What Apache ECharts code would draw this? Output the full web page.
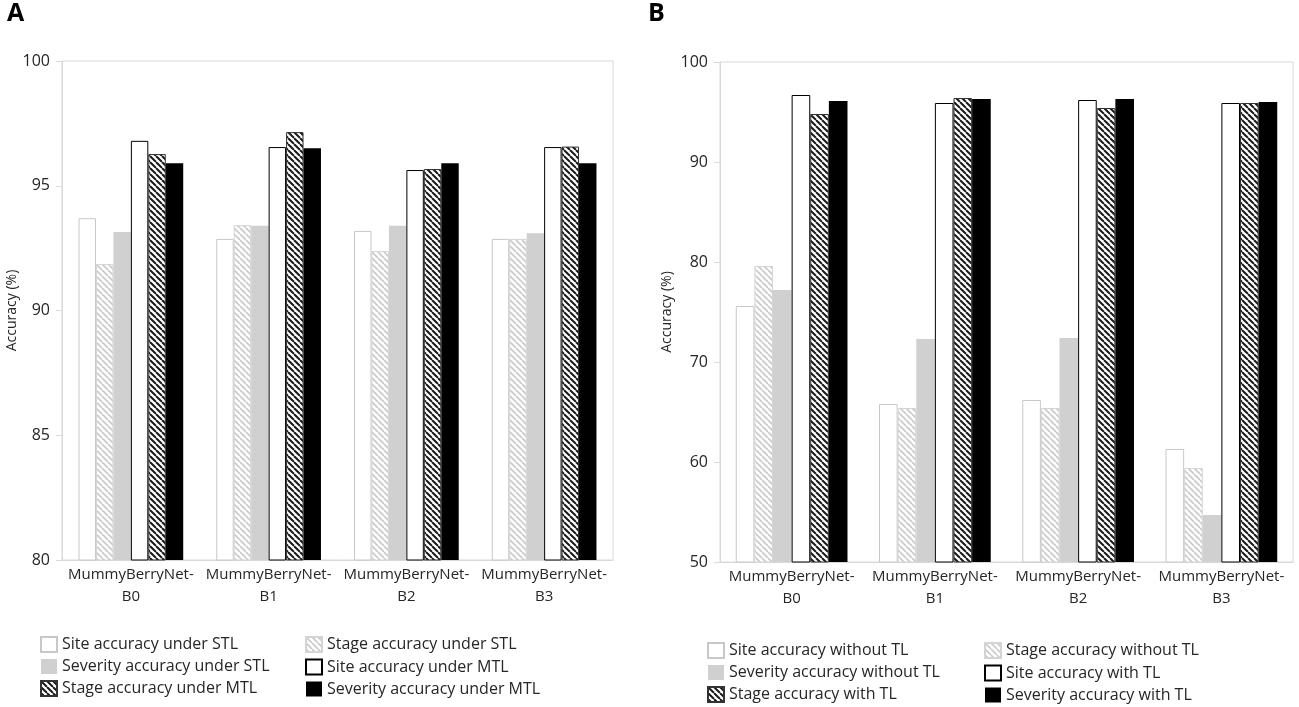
<!DOCTYPE html>
<html>
<head>
<meta charset="utf-8">
<script src="https://cdn.jsdelivr.net/npm/echarts@6/dist/echarts.min.js"></script>
<style>
  html, body { margin: 0; padding: 0; background: #fff; }
  #chart-container { width: 1299px; height: 707px; }
</style>
</head>
<body>
<div id="chart-container"></div>
<script>
const categories = ['MummyBerryNet-\nB0', 'MummyBerryNet-\nB1', 'MummyBerryNet-\nB2', 'MummyBerryNet-\nB3'];

// panel A: single-task vs multi-task learning
const namesA = [
    'Site accuracy under STL', 'Stage accuracy under STL', 'Severity accuracy under STL',
    'Site accuracy under MTL', 'Stage accuracy under MTL', 'Severity accuracy under MTL'
];
const siteSTL = [93.7, 92.87, 93.19, 92.87];
const stageSTL = [91.86, 93.42, 92.38, 92.87];
const severitySTL = [93.15, 93.4, 93.4, 93.1];
const siteMTL = [96.8, 96.55, 95.63, 96.55];
const stageMTL = [96.27, 97.15, 95.67, 96.57];
const severityMTL = [95.9, 96.5, 95.9, 95.9];

// panel B: with vs without transfer learning
const namesB = [
    'Site accuracy without TL', 'Stage accuracy without TL', 'Severity accuracy without TL',
    'Site accuracy with TL', 'Stage accuracy with TL', 'Severity accuracy with TL'
];
const siteNoTL = [75.6, 65.8, 66.2, 61.3];
const stageNoTL = [79.6, 65.4, 65.4, 59.4];
const severityNoTL = [77.2, 72.3, 72.4, 54.7];
const siteTL = [96.7, 95.9, 96.2, 95.9];
const stageTL = [94.8, 96.4, 95.4, 95.9];
const severityTL = [96.1, 96.3, 96.3, 96.0];

const yTicksA = { min: 80, max: 100, interval: 5 };
const yTicksB = { min: 50, max: 100, interval: 10 };

const fontFamily = 'Open Sans';
const textColor = '#262626';
const frameColor = '#d9d9d9';

const makeHatch = (lineColor, width) => {
    const s = 6;
    const c = document.createElement('canvas');
    c.width = s;
    c.height = s;
    const ctx = c.getContext('2d');
    ctx.fillStyle = '#ffffff';
    ctx.fillRect(0, 0, s, s);
    ctx.strokeStyle = lineColor;
    ctx.lineWidth = width;
    ctx.beginPath();
    [-s, 0, s].forEach(x0 => {
        ctx.moveTo(x0, 0);
        ctx.lineTo(x0 + s, s);
    });
    ctx.stroke();
    return { image: c, repeat: 'repeat' };
};

const lightHatch = makeHatch('#c9c9c9', 1.6);
const darkHatch = makeHatch('#1a1a1a', 2);

const barStyles = [
    { color: '#ffffff', borderColor: '#c8c8c8', borderWidth: 1 },
    { color: lightHatch, borderColor: '#d4d4d4', borderWidth: 1 },
    { color: '#d0d0d0', borderColor: '#d0d0d0', borderWidth: 0 },
    { color: '#ffffff', borderColor: '#000000', borderWidth: 1 },
    { color: darkHatch, borderColor: '#333333', borderWidth: 1 },
    { color: '#000000', borderColor: '#000000', borderWidth: 0 }
];

const makeSeries = (names, dataSets, axisIndex, catGap) => names.map((name, i) => ({
    name: name,
    type: 'bar',
    xAxisIndex: axisIndex,
    yAxisIndex: axisIndex,
    barGap: '0%',
    barCategoryGap: catGap,
    itemStyle: barStyles[i],
    emphasis: { disabled: true },
    data: dataSets[i]
}));

const makeXAxis = (gridIndex) => ({
    type: 'category',
    gridIndex: gridIndex,
    data: categories,
    axisLine: { show: true, lineStyle: { color: frameColor } },
    axisTick: { show: false },
    axisLabel: {
        fontFamily: fontFamily,
        fontSize: 15,
        lineHeight: 22,
        color: textColor,
        margin: 4,
        interval: 0
    }
});

const makeYAxis = (gridIndex, ticks, gap) => ({
    type: 'value',
    gridIndex: gridIndex,
    min: ticks.min,
    max: ticks.max,
    interval: ticks.interval,
    name: 'Accuracy (%)',
    nameLocation: 'middle',
    nameGap: gap,
    nameTextStyle: { fontFamily: fontFamily, fontSize: 14, color: textColor },
    axisLine: { show: true, lineStyle: { color: frameColor } },
    axisTick: { show: true, length: 6, lineStyle: { color: frameColor } },
    splitLine: { show: false },
    axisLabel: { fontFamily: fontFamily, fontSize: 16, color: textColor, margin: 12 }
});

const makeLegend = (left, top, data) => ({
    orient: 'vertical',
    left: left,
    top: top,
    height: 70,
    padding: 0,
    icon: 'rect',
    itemWidth: 16,
    itemHeight: 15,
    itemGap: 5.5,
    itemTextGap: 6,
    selectedMode: false,
    data: data,
    textStyle: { fontFamily: fontFamily, fontSize: 16, lineHeight: 16, color: textColor }
});

const chartContainer = document.getElementById('chart-container');
const myChart = echarts.init(chartContainer);

const options = {
    animation: false,
    backgroundColor: '#ffffff',
    title: [
        { text: 'A', left: 7, top: 1, padding: 0, textStyle: { fontFamily: fontFamily, fontSize: 25, fontWeight: 'bold', color: '#000' } },
        { text: 'B', left: 648, top: 1, padding: 0, textStyle: { fontFamily: fontFamily, fontSize: 25, fontWeight: 'bold', color: '#000' } }
    ],
    grid: [
        { left: 62, right: 686, top: 61, bottom: 147, show: true, borderColor: frameColor, borderWidth: 1 },
        { left: 720, right: 6, top: 62, bottom: 145, show: true, borderColor: frameColor, borderWidth: 1 }
    ],
    xAxis: [makeXAxis(0), makeXAxis(1)],
    yAxis: [makeYAxis(0, yTicksA, 43), makeYAxis(1, yTicksB, 46)],
    legend: [
        makeLegend(40, 636, [namesA[0], namesA[2], namesA[4]]),
        makeLegend(305, 636, [namesA[1], namesA[3], namesA[5]]),
        makeLegend(707, 642, [namesB[0], namesB[2], namesB[4]]),
        makeLegend(984, 642, [namesB[1], namesB[3], namesB[5]])
    ],
    series: [
        ...makeSeries(namesA, [siteSTL, stageSTL, severitySTL, siteMTL, stageMTL, severityMTL], 0, '24%'),
        ...makeSeries(namesB, [siteNoTL, stageNoTL, severityNoTL, siteTL, stageTL, severityTL], 1, '22%')
    ]
};

myChart.setOption(options);

window.addEventListener('resize', function () {
    myChart.resize();
});
</script>
</body>
</html>
